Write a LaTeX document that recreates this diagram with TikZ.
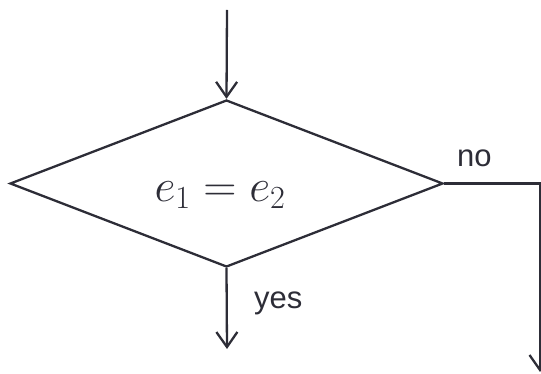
\RequirePackage{fix-cm}
\documentclass[tikz,border=0pt]{standalone}
\usepackage{fontspec}
\setmainfont{Liberation Sans}
\usepackage{amsmath}
\usetikzlibrary{arrows.meta, positioning, shapes.geometric}

\definecolor{ink}{RGB}{45,45,55}

\begin{document}
\begin{tikzpicture}[
  x=1pt, y=-1pt,
  >={Straight Barb[length=15pt, width=21pt]},
  line width=2.3pt, draw=ink,
  decision/.style = {draw=ink, diamond, inner sep=0pt, minimum width=433pt, minimum height=167pt},
  tag/.style      = {text=ink, font=\fontsize{31}{34}\selectfont, inner sep=0pt},
]
  \useasboundingbox (0,0) rectangle (541,374);

  \coordinate                                   (start)  at (227,10);
  \node[decision]                               (test)   at (226.5,183.5) {};
  \node[text=ink, inner sep=0pt, anchor=base]   (eq)     at (220,202)
        {\fontsize{46}{50}\selectfont$e_1 = e_2$};
  \coordinate                                   (yesend) at (227,349);
  \coordinate                                   (corner) at (540,183.5);
  \coordinate                                   (noend)  at (540,372);

  \node[tag, anchor=base west] (yes) at (253,308) {yes};
  \node[tag, anchor=base west] (no)  at (456,167) {no};

  \draw[->] (start)       -- (test.north);
  \draw[->] (test.south)  -- (yesend);
  \draw[->] (test.east)   -- (corner) -- (noend);
\end{tikzpicture}
\end{document}
